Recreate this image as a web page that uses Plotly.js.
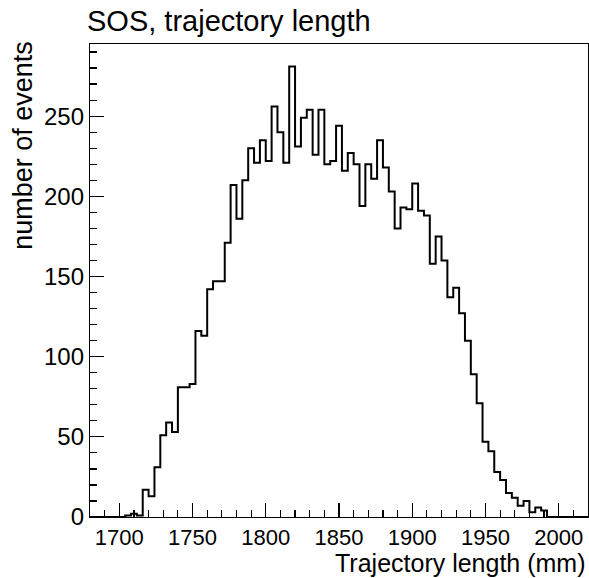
<!DOCTYPE html>
<html>
<head>
<meta charset="utf-8">
<script src="https://cdn.plot.ly/plotly-3.0.1.min.js"></script>
<style>
  html, body { margin: 0; padding: 0; background: #ffffff; }
  #chart { width: 589px; height: 578px; }
</style>
</head>
<body>
<div id="chart"></div>
<script>
// Histogram binning (mm)
const binStart = 1680;
const binWidth = 4;
// Counts per 4 mm bin, starting at 1680 mm
const counts = [
  0, 0, 0, 0, 0, 0, 1, 2, 1, 17,
  13, 31, 51, 59, 53, 81, 81, 83, 116, 113,
  142, 147, 147, 171, 207, 186, 210, 230, 221, 235,
  222, 256, 240, 221, 281, 231, 249, 254, 226, 254,
  220, 222, 244, 216, 227, 220, 194, 220, 211, 235,
  218, 203, 180, 193, 192, 208, 191, 188, 158, 175,
  160, 137, 143, 127, 110, 89, 71, 47, 41, 28,
  23, 15, 12, 7, 10, 3, 6, 4, 0, 0,
  0, 0, 0, 0, 0
];
const xTickVals = [1700, 1750, 1800, 1850, 1900, 1950, 2000];
const yTickVals = [0, 50, 100, 150, 200, 250];

const titleText = "SOS, trajectory length";
const xTitleText = "Trajectory length (mm)";
const yTitleText = "number of events";

// step outline: lower edges + final upper edge
const edges = counts.map((_, i) => binStart + i * binWidth);
edges.push(binStart + counts.length * binWidth);
const stepY = counts.concat([counts[counts.length - 1]]);

const FONT = "Liberation Sans, Arial, Helvetica, sans-serif";

const trace = {
  type: "scatter",
  mode: "lines",
  x: edges,
  y: stepY,
  line: { shape: "hv", color: "#000000", width: 2 },
  hoverinfo: "skip",
  showlegend: false
};

const layout = {
  width: 589,
  height: 578,
  margin: { l: 90, r: 1, t: 44, b: 61, pad: 0 },
  paper_bgcolor: "#ffffff",
  plot_bgcolor: "#ffffff",
  font: { family: FONT, color: "#000000", size: 23 },
  showlegend: false,
  title: {
    text: titleText,
    font: { family: FONT, size: 29, color: "#000000" },
    xref: "container", x: 87 / 589, xanchor: "left",
    yref: "container", y: 1 - 21 / 578, yanchor: "middle"
  },
  xaxis: {
    range: [1680, 2020],
    tickmode: "array",
    tickvals: xTickVals,
    ticktext: xTickVals.map(String),
    ticks: "inside", ticklen: 14, tickwidth: 1.2, tickcolor: "#000000",
    minor: { dtick: 10, tick0: 1700, ticks: "inside", ticklen: 7, tickwidth: 1.2, tickcolor: "#000000", showgrid: false },
    showline: true, linecolor: "#000000", linewidth: 1.2, mirror: true,
    showgrid: false, zeroline: false,
    tickfont: { family: FONT, size: 22, color: "#000000" },
    automargin: false
  },
  yaxis: {
    range: [0, 295],
    tickmode: "array",
    tickvals: yTickVals,
    ticktext: yTickVals.map(String),
    ticks: "inside", ticklen: 14, tickwidth: 1.2, tickcolor: "#000000",
    minor: { dtick: 10, tick0: 0, ticks: "inside", ticklen: 7, tickwidth: 1.2, tickcolor: "#000000", showgrid: false },
    showline: true, linecolor: "#000000", linewidth: 1.2, mirror: true,
    showgrid: false, zeroline: false,
    tickfont: { family: FONT, size: 24, color: "#000000" },
    automargin: false
  },
  annotations: [
    {
      text: xTitleText, showarrow: false,
      xref: "paper", x: 1, xanchor: "right",
      yref: "paper", y: -46 / 473, yanchor: "middle",
      font: { family: FONT, size: 25, color: "#000000" }
    },
    {
      text: yTitleText, showarrow: false, textangle: -90,
      xref: "paper", x: -67 / 498, xanchor: "center",
      yref: "paper", y: 1.01, yanchor: "top",
      font: { family: FONT, size: 27, color: "#000000" }
    }
  ]
};

Plotly.newPlot("chart", [trace], layout, { staticPlot: true, displayModeBar: false });
</script>
</body>
</html>
